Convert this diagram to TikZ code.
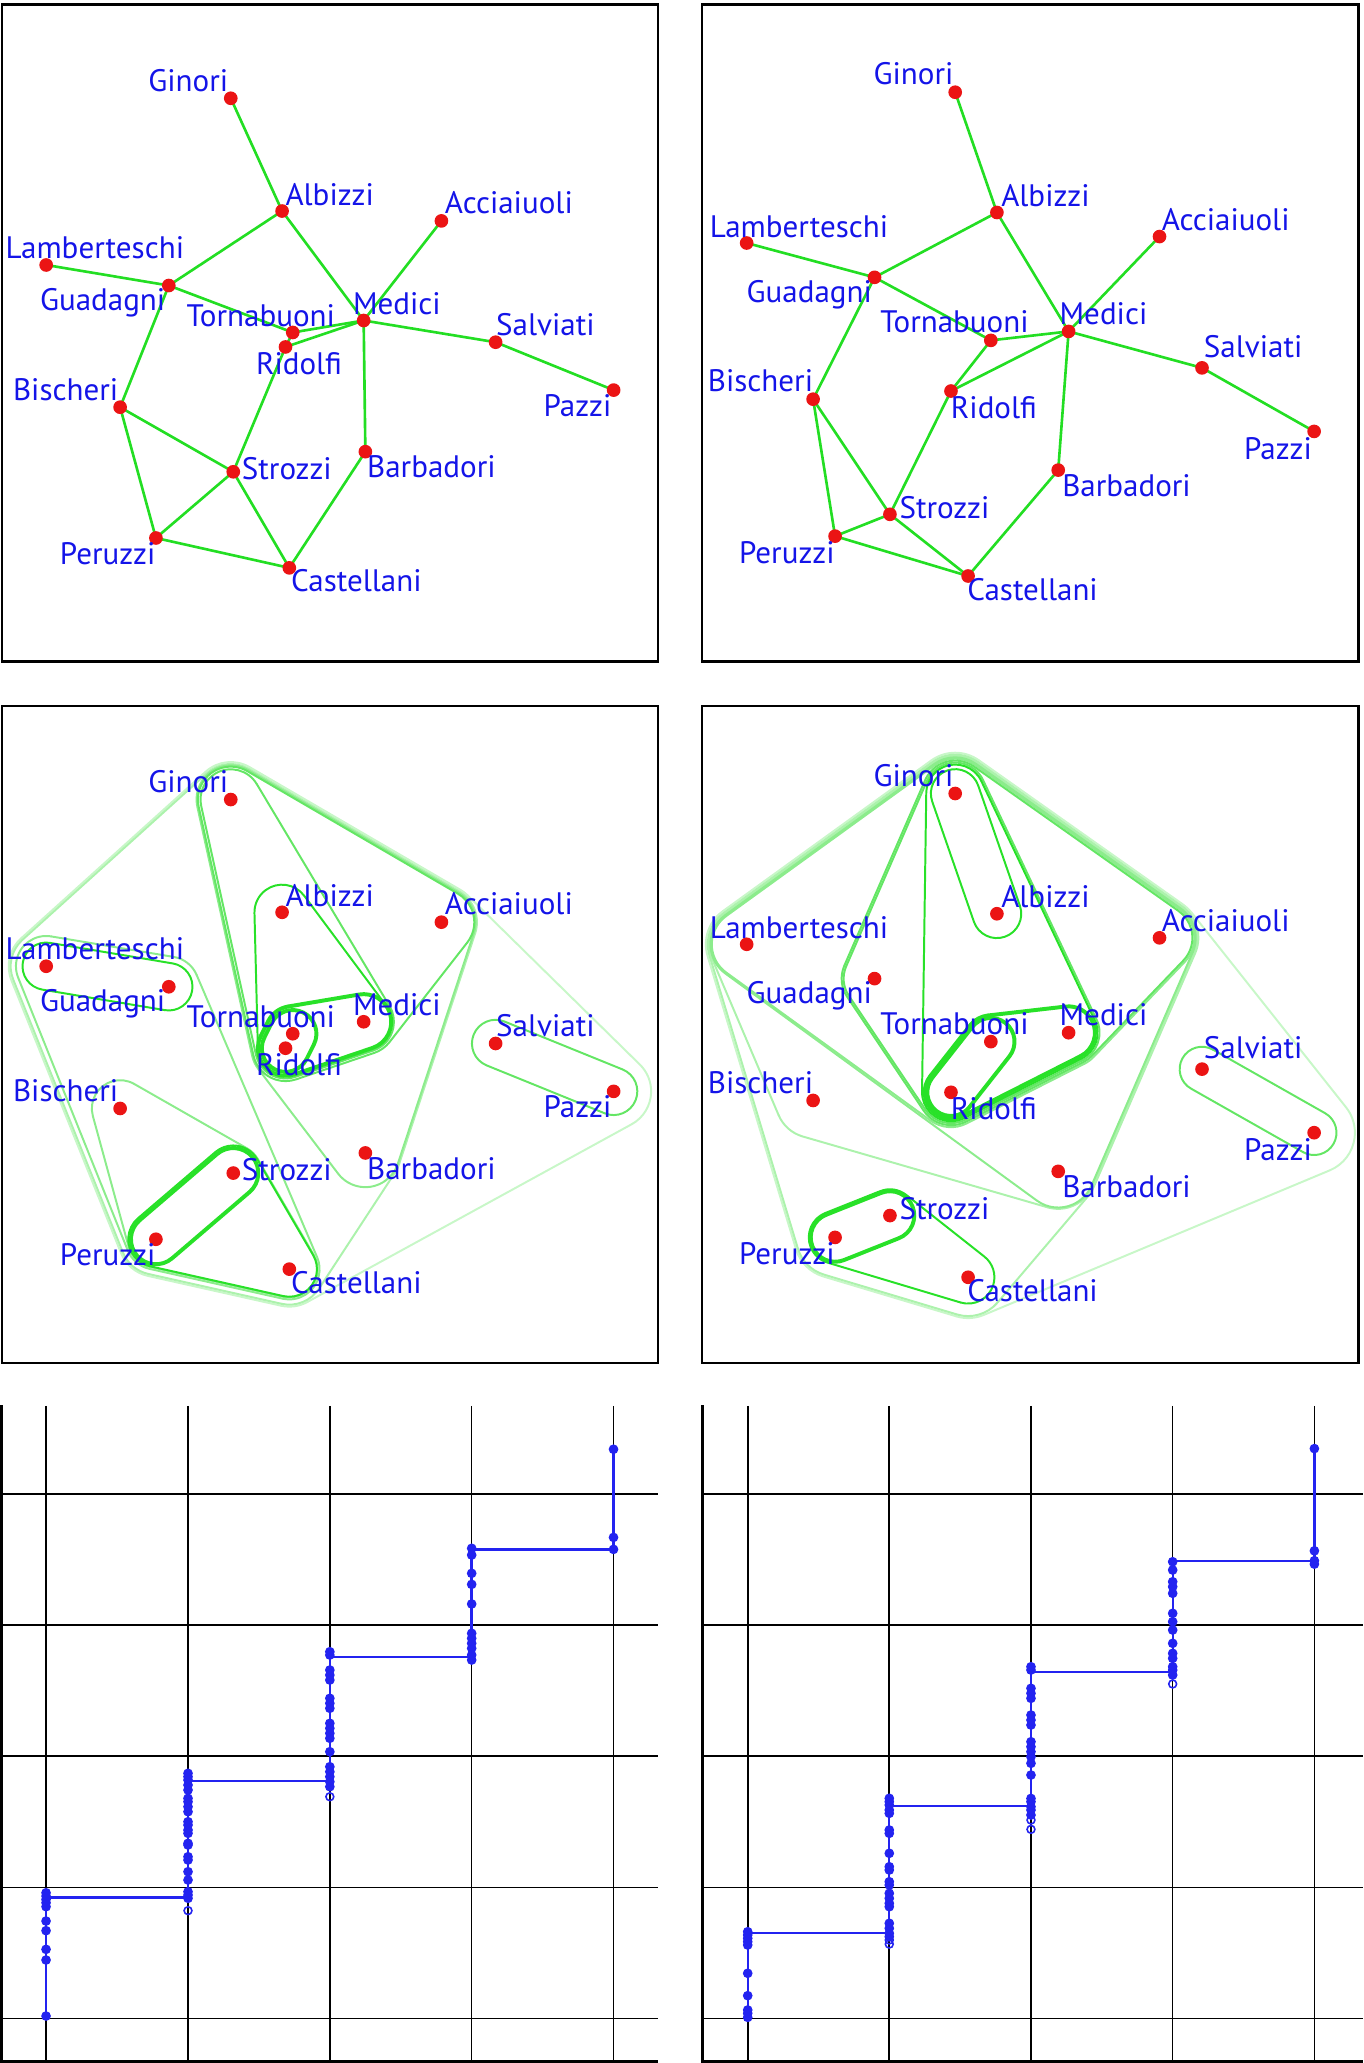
\documentclass[tikz,border=0pt]{standalone}
\usepackage{fontspec}
\setmainfont{PT Sans}
\usetikzlibrary{calc}
\definecolor{edgegreen}{RGB}{35,222,35}
\definecolor{nodered}{RGB}{235,20,20}
\definecolor{labblue}{RGB}{20,20,232}
\definecolor{hA}{RGB}{40,225,40}
\definecolor{hB}{RGB}{100,230,100}
\definecolor{hC}{RGB}{140,236,140}
\definecolor{hD}{RGB}{172,242,172}
\definecolor{hE}{RGB}{200,247,200}
\definecolor{plotblue}{RGB}{35,35,240}
\tikzset{
 panel/.style={draw=black, line width=1pt},
 edge/.style={draw=edgegreen, line width=1pt},
 reddot/.style={circle, fill=nodered, inner sep=0pt, minimum size=5.2pt},
 lab/.style={inner sep=0pt, text=labblue, font=\fontsize{11.8}{13}\selectfont},
 hl/.style={draw=#1, line width=0.75pt, line cap=round, line join=round},
 hlt/.style={draw=#1, line width=1.5pt, line cap=round, line join=round},
 gridline/.style={draw=black, line width=0.6pt},
 axisline/.style={draw=black, line width=1.2pt},
 stepline/.style={draw=plotblue, line width=0.9pt},
 bdot/.style={fill=plotblue},
 odot/.style={draw=plotblue, line width=0.6pt},
}
\newcommand\hullarc[5]{%
  \draw[#1] let \p1=($(#3)-(#2)$), \p2=($(#4)-(#3)$),
    \n1={atan2(\y1,\x1)}, \n2={atan2(\y2,\x2)},
    \n3={mod(\n2-\n1+720,360)} in
    ($(#3)+({\n1-90}:#5)$) arc[start angle=\n1-90, delta angle=\n3, radius=#5]
    -- ($(#4)!#5!90:(#3)$);%
}
\newcommand\hull[3]{%
  \foreach \v [count=\i] in {#3} {\coordinate (hv\i) at (\v); \xdef\hlN{\i}}%
  \coordinate (hv0) at (hv\hlN);%
  \pgfmathtruncatemacro\hlM{\hlN+1}%
  \coordinate (hv\hlM) at (hv1);%
  \foreach \i in {1,...,\hlN} {%
    \pgfmathtruncatemacro\hlA{\i-1}%
    \pgfmathtruncatemacro\hlB{\i+1}%
    \hullarc{#1}{hv\hlA}{hv\i}{hv\hlB}{#2}%
  }%
}
% layout A (left panels)
\newcommand\layA[2]{%
\coordinate (#1Gi) at (175.4,-74.7-#2);
\coordinate (#1Al) at (214.4,-160.4-#2);
\coordinate (#1Ac) at (335.5,-167.9-#2);
\coordinate (#1La) at (35.1,-201.4-#2);
\coordinate (#1Gu) at (128.3,-217.0-#2);
\coordinate (#1Me) at (276.4,-243.6-#2);
\coordinate (#1To) at (222.5,-252.7-#2);
\coordinate (#1Ri) at (217.0,-263.7-#2);
\coordinate (#1Sa) at (376.7,-260.1-#2);
\coordinate (#1Pa) at (466.4,-296.5-#2);
\coordinate (#1Bi) at (91.3,-309.5-#2);
\coordinate (#1Ba) at (277.7,-343.3-#2);
\coordinate (#1St) at (177.3,-358.6-#2);
\coordinate (#1Pe) at (118.5,-408.9-#2);
\coordinate (#1Ca) at (219.9,-431.6-#2);
}
\newcommand\labA[2]{%
\node[lab,anchor=base east] (#1GiL) at (173.8,-69.2-#2) {Ginori};
\node[lab,anchor=base west] (#1AlL) at (216.6,-155.9-#2) {Albizzi};
\node[lab,anchor=base west] (#1AcL) at (337.8,-162.4-#2) {Acciaiuoli};
\node[lab,anchor=base west] (#1LaL) at (3.9,-196.5-#2) {Lamberteschi};
\node[lab,anchor=base east] (#1GuL) at (126.0,-236.1-#2) {Guadagni};
\node[lab,anchor=base east] (#1ToL) at (255.0,-247.8-#2) {Tornabuoni};
\node[lab,anchor=base west] (#1MeL) at (267.9,-238.7-#2) {Medici};
\node[lab,anchor=base west] (#1RiL) at (194.2,-284.8-#2) {Ridolfi};
\node[lab,anchor=base west] (#1SaL) at (376.7,-255.0-#2) {Salviati};
\node[lab,anchor=base east] (#1PaL) at (465.1,-316.7-#2) {Pazzi};
\node[lab,anchor=base east] (#1BiL) at (90.3,-304.3-#2) {Bischeri};
\node[lab,anchor=base west] (#1BaL) at (278.7,-363.1-#2) {Barbadori};
\node[lab,anchor=base west] (#1StL) at (183.5,-364.4-#2) {Strozzi};
\node[lab,anchor=base east] (#1PeL) at (118.5,-428.7-#2) {Peruzzi};
\node[lab,anchor=base west] (#1CaL) at (220.9,-449.8-#2) {Castellani};
}
% layout B (right panels)
\newcommand\layB[2]{%
\coordinate (#1Gi) at (726.0,-70.1-#2);
\coordinate (#1Al) at (757.7,-161.5-#2);
\coordinate (#1Ac) at (881.3,-179.8-#2);
\coordinate (#1La) at (567.5,-184.7-#2);
\coordinate (#1Gu) at (664.7,-210.8-#2);
\coordinate (#1Me) at (812.2,-251.9-#2);
\coordinate (#1To) at (753.1,-258.7-#2);
\coordinate (#1Ri) at (722.8,-297.2-#2);
\coordinate (#1Sa) at (913.6,-279.6-#2);
\coordinate (#1Pa) at (998.8,-327.9-#2);
\coordinate (#1Bi) at (618.0,-303.4-#2);
\coordinate (#1Ba) at (804.3,-357.3-#2);
\coordinate (#1St) at (676.4,-390.9-#2);
\coordinate (#1Pe) at (634.7,-407.5-#2);
\coordinate (#1Ca) at (735.8,-437.8-#2);
}
\newcommand\labB[2]{%
\node[lab,anchor=base east] (#1GiL) at (725.1,-64.6-#2) {Ginori};
\node[lab,anchor=base west] (#1AlL) at (760.6,-156.6-#2) {Albizzi};
\node[lab,anchor=base west] (#1AcL) at (882.6,-175.2-#2) {Acciaiuoli};
\node[lab,anchor=base west] (#1LaL) at (539.1,-180.4-#2) {Lamberteschi};
\node[lab,anchor=base east] (#1GuL) at (663.1,-230.0-#2) {Guadagni};
\node[lab,anchor=base east] (#1ToL) at (782.2,-252.9-#2) {Tornabuoni};
\node[lab,anchor=base west] (#1MeL) at (805.0,-246.3-#2) {Medici};
\node[lab,anchor=base west] (#1RiL) at (722.4,-318.1-#2) {Ridolfi};
\node[lab,anchor=base west] (#1SaL) at (914.6,-271.8-#2) {Salviati};
\node[lab,anchor=base east] (#1PaL) at (997.5,-349.1-#2) {Pazzi};
\node[lab,anchor=base east] (#1BiL) at (618.4,-297.9-#2) {Bischeri};
\node[lab,anchor=base west] (#1BaL) at (807.0,-377.5-#2) {Barbadori};
\node[lab,anchor=base west] (#1StL) at (683.3,-394.1-#2) {Strozzi};
\node[lab,anchor=base east] (#1PeL) at (634.7,-428.4-#2) {Peruzzi};
\node[lab,anchor=base west] (#1CaL) at (734.8,-456.1-#2) {Castellani};
}
\newcommand\famdots[1]{%
\foreach \n in {Gi,Al,Ac,La,Gu,Me,To,Ri,Sa,Pa,Bi,Ba,St,Pe,Ca} {\node[reddot] (#1\n x) at (#1\n) {};}%
}
\newcommand\famedges[1]{%
\foreach \a/\b in {Ac/Me,Al/Gi,Al/Gu,Al/Me,Ba/Ca,Ba/Me,Bi/Gu,Bi/Pe,Bi/St,Ca/Pe,Ca/St,Gu/La,Gu/To,Me/Ri,Me/Sa,Me/To,Pa/Sa,Pe/St,Ri/St,Ri/To} {\draw[edge] (#1\a) -- (#1\b);}%
}
\begin{document}
\begin{tikzpicture}[x=0.5pt,y=0.5pt]
\useasboundingbox (0,0) rectangle (1036,-1568);
% ---------- top panels ----------
\draw[panel] (1.5,-3.5) rectangle (500,-503);
\draw[panel] (533.5,-3.5) rectangle (1032.5,-503);
\layA{p1}{0}
\layB{p2}{0}
\famedges{p1}
\famedges{p2}
\famdots{p1}
\famdots{p2}
\labA{p1}{0}
\labB{p2}{0}
% ---------- middle panels ----------
\draw[panel] (1.5,-536.5) rectangle (500,-1036);
\draw[panel] (533.5,-536.5) rectangle (1032.5,-1036);
\layA{q3}{533}
\layB{q4}{533}
% middle-left hulls
\hull{hl=hE}{14.25pt}{q3Gi,q3La,q3Pe,q3Ca,q3Pa,q3Ac}
\hull{hl=hD}{13.5pt}{q3Gi,q3La,q3Pe,q3Ca,q3Ba,q3Ac}
\hull{hl=hC}{11.5pt}{q3La,q3Pe,q3Ca,q3Gu}
\hull{hl=hC}{13pt}{q3Gi,q3Ri,q3Ba,q3Ac}
\hull{hl=hB}{12.5pt}{q3Gi,q3Ri,q3Me,q3Ac}
\hull{hl=hB}{11.5pt}{q3Gi,q3Ri,q3Me}
\hull{hl=hA}{10.5pt}{q3Al,q3Ri,q3Me}
\hull{hlt=hA}{10.5pt}{q3To,q3Ri,q3Me}
\hull{hlt=hA}{9pt}{q3To,q3Ri}
\hull{hl=hC}{10.75pt}{q3Bi,q3Pe,q3Ca,q3St}
\hull{hl=hA}{10.5pt}{q3St,q3Pe,q3Ca}
\hull{hlt=hA}{9.5pt}{q3St,q3Pe}
\hull{hl=hA}{9pt}{q3La,q3Gu}
\hull{hl=hB}{9pt}{q3Sa,q3Pa}
% middle-right hulls
\hull{hl=hE}{15.5pt}{q4Gi,q4La,q4Pe,q4Ca,q4Pa,q4Ac}
\hull{hl=hD}{14.75pt}{q4Gi,q4La,q4Pe,q4Ca,q4Ba,q4Ac}
\hull{hl=hD}{14.25pt}{q4Gi,q4La,q4Bi,q4Ba,q4Ac}
\hull{hl=hC}{13.75pt}{q4Gi,q4La,q4Ba,q4Ac}
\hull{hl=hC}{13.25pt}{q4Gi,q4La,q4Ri,q4Me,q4Ac}
\hull{hl=hB}{12.5pt}{q4Gi,q4Gu,q4Ri,q4Me,q4Ac}
\hull{hl=hB}{11.75pt}{q4Gi,q4Gu,q4Ri,q4Me}
\hull{hl=hA}{11pt}{q4Gi,q4Ri,q4Me}
\hull{hlt=hA}{10pt}{q4To,q4Ri,q4Me}
\hull{hlt=hA}{9pt}{q4To,q4Ri}
\hull{hl=hA}{9.25pt}{q4Gi,q4Al}
\hull{hl=hA}{10pt}{q4St,q4Pe,q4Ca}
\hull{hlt=hA}{9.25pt}{q4St,q4Pe}
\hull{hl=hB}{8.5pt}{q4Sa,q4Pa}
\famdots{q3}
\famdots{q4}
\labA{q3}{533}
\labB{q4}{533}
% ---------- bottom-left plot ----------
\foreach \x in {35.0,142.9,250.7,358.5,466.3} {\draw[gridline] (\x,-1068.5) -- (\x,-1568);}
\foreach \y in {1135.5,1235.1,1334.7,1434.5,1534.3} {\draw[gridline] (1.5,-\y) -- (500,-\y);}
\draw[axisline] (1.2,-1068) -- (1.2,-1567) -- (500,-1567);
\draw[stepline] (35.0,-1532.3) -- (35.0,-1438.6);
\draw[stepline] (35.0,-1442.3) -- (142.9,-1442.3);
\draw[stepline] (142.9,-1444) -- (142.9,-1347.8);
\draw[stepline] (142.9,-1353.6) -- (250.7,-1353.6);
\draw[stepline] (250.7,-1358) -- (250.7,-1255.4);
\draw[stepline] (250.7,-1259.2) -- (358.5,-1259.2);
\draw[stepline] (358.5,-1261.7) -- (358.5,-1176.8);
\draw[stepline] (358.5,-1177.6) -- (466.3,-1177.6);
\draw[stepline] (466.3,-1177.6) -- (466.3,-1101.5);
\foreach \y in {1532.3,1489.7,1481.6,1467.4,1460.1,1438.6,1441.1,1443.7,1446.2,1449.2} {\fill[bdot] (35.0,-\y) circle (1.85pt);}
\foreach \y in {1347.8,1350.4,1352.9,1356.7,1360.5,1366.8,1369.4,1373.2,1377.0,1384.6,1387.1,1390.9,1393.4,1401.0,1402.3,1411.2,1413.7,1422.6,1428.9,1437.8,1440.3,1442.8} {\fill[bdot] (142.9,-\y) circle (1.85pt);}
\draw[odot] (142.9,-1452.2) circle (1.5pt);
\foreach \y in {1255.4,1257.9,1269.3,1273.1,1276.9,1290.8,1294.6,1298.4,1309.8,1313.6,1317.4,1321.2,1331.4,1342.8,1346.6,1350.4,1354.2,1358.0} {\fill[bdot] (250.7,-\y) circle (1.85pt);}
\draw[odot] (250.7,-1365.6) circle (1.5pt);
\foreach \y in {1176.8,1181.9,1195.8,1204.2,1219.1,1241.4,1245.2,1249.0,1252.8,1257.9,1261.7} {\fill[bdot] (358.5,-\y) circle (1.85pt);}
\foreach \y in {1177.6,1168.5,1101.5} {\fill[bdot] (466.3,-\y) circle (1.85pt);}
% ---------- bottom-right plot ----------
\foreach \x in {568.3,675.9,783.6,891.3,999.0} {\draw[gridline] (\x,-1068.5) -- (\x,-1568);}
\foreach \y in {1135.5,1235.1,1334.7,1434.5,1534.3} {\draw[gridline] (534,-\y) -- (1036,-\y);}
\draw[axisline] (534.2,-1068) -- (534.2,-1567) -- (1036,-1567);
\draw[stepline] (568.3,-1533.3) -- (568.3,-1468.2);
\draw[stepline] (568.3,-1469.4) -- (675.9,-1469.4);
\draw[stepline] (675.9,-1472.0) -- (675.9,-1366.8);
\draw[stepline] (675.9,-1372.7) -- (783.6,-1372.7);
\draw[stepline] (783.6,-1379.5) -- (783.6,-1266.8);
\draw[stepline] (783.6,-1270.6) -- (891.3,-1270.6);
\draw[stepline] (891.3,-1273.1) -- (891.3,-1187.0);
\draw[stepline] (891.3,-1186.2) -- (999.0,-1186.2);
\draw[stepline] (999.0,-1188.8) -- (999.0,-1101.0);
\foreach \y in {1468.2,1470.7,1473.2,1475.8,1478.3,1499.8,1516.8,1527.7,1530.2,1533.3} {\fill[bdot] (568.3,-\y) circle (1.85pt);}
\foreach \y in {1366.8,1369.4,1371.9,1375.7,1378.2,1390.9,1393.4,1408.6,1418.8,1421.3,1430.2,1432.7,1439.0,1442.8,1446.6,1449.2,1461.8,1465.6,1469.4,1472.0} {\fill[bdot] (675.9,-\y) circle (1.85pt);}
\draw[odot] (675.9,-1474.5) circle (1.5pt);
\draw[odot] (675.9,-1477.6) circle (1.5pt);
\foreach \y in {1266.8,1269.3,1283.2,1287.0,1290.8,1303.5,1307.3,1311.1,1323.8,1327.6,1331.4,1335.2,1340.2,1349.1,1366.9,1369.4,1373.2,1375.7,1379.5} {\fill[bdot] (783.6,-\y) circle (1.85pt);}
\draw[odot] (783.6,-1383.3) circle (1.5pt);
\draw[odot] (783.6,-1390.4) circle (1.5pt);
\foreach \y in {1187.0,1193.3,1202.2,1206.0,1211.0,1226.2,1232.6,1238.9,1249.0,1256.6,1260.4,1266.8,1269.3,1273.1} {\fill[bdot] (891.3,-\y) circle (1.85pt);}
\draw[odot] (891.3,-1279.9) circle (1.5pt);
\foreach \y in {1186.2,1188.8,1178.7,1101.0} {\fill[bdot] (999.0,-\y) circle (1.85pt);}
\end{tikzpicture}
\end{document}
